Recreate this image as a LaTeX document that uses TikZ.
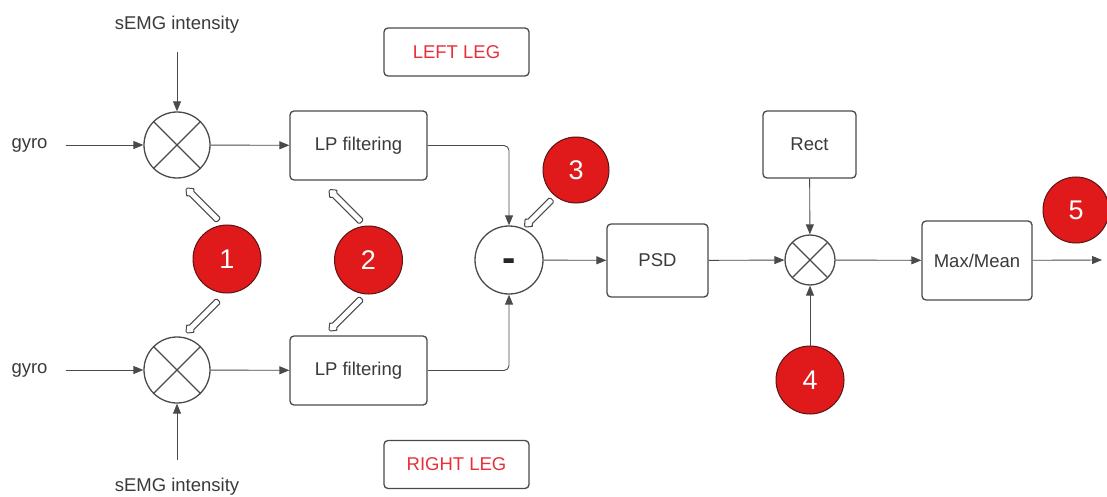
\documentclass[tikz,border=0pt]{standalone}
\usepackage{fontspec}
\setmainfont{Liberation Sans}
\usetikzlibrary{arrows.meta,shapes.arrows}
\definecolor{txt}{HTML}{3A3A3A}
\definecolor{ln}{HTML}{4A4A4A}
\definecolor{badge}{HTML}{E01A1A}
\definecolor{badgeedge}{HTML}{5A1414}
\definecolor{legred}{HTML}{E8303A}
\tikzset{
  box/.style={draw=ln, line width=1.3pt, rounded corners=4pt, fill=white, text=txt, font=\fontsize{18.5}{20}\selectfont, inner sep=0pt},
  multx/.style={circle, draw=ln, line width=1.3pt, fill=white, inner sep=0pt, path picture={
     \draw[ln, line width=1.3pt] (path picture bounding box.center) -- ++(45:40pt) (path picture bounding box.center) -- ++(135:40pt) (path picture bounding box.center) -- ++(225:40pt) (path picture bounding box.center) -- ++(-45:40pt);}},
  badgec/.style={circle, draw=badgeedge, line width=1pt, fill=badge, text=white, font=\fontsize{27}{28}\selectfont, inner sep=0pt, minimum size=68pt},
  lbl/.style={text=txt, font=\fontsize{18.5}{20}\selectfont, inner sep=3pt},
  arr/.style={draw=ln, line width=0.9pt, -{Triangle[length=10pt,width=8pt]}},
  hollow/.style={single arrow, draw=ln, line width=1pt, fill=white, inner sep=2.6pt, minimum height=46pt, single arrow head extend=2.6pt, single arrow tip angle=80, rounded corners=1.5pt},
  legbox/.style={draw=ln, line width=1.3pt, rounded corners=4pt, fill=white, text=legred, font=\fontsize{18.5}{20}\selectfont, minimum width=145pt, minimum height=48pt, inner sep=0pt},
  subc/.style={circle, draw=ln, line width=1.3pt, fill=white, minimum size=68pt, inner sep=0pt, text=black!85, font=\fontsize{40}{40}\selectfont\bfseries, text height=22.8pt, text depth=0pt}
}
\begin{document}
\begin{tikzpicture}[x=1pt,y=1pt]
\useasboundingbox (0,0) rectangle (1107,496);
\fill[white] (0,0) rectangle (1107,496);
% labels
\node[lbl] (s1) at (177,471) {sEMG intensity};
\node[lbl] (s2) at (177,9) {sEMG intensity};
\node[lbl] (g1) at (29.5,351) {gyro};
\node[lbl] (g2) at (29.5,126) {gyro};
% multipliers
\node[multx, minimum size=66pt] (m1) at (177,351) {};
\node[multx, minimum size=66pt] (m2) at (177,126) {};
\node[multx, minimum size=50pt] (m3) at (810,236) {};
% boxes
\node[box, minimum width=137pt, minimum height=69pt] (lp1) at (358.5,350.5) {LP filtering};
\node[box, minimum width=137pt, minimum height=69pt] (lp2) at (358.5,125.5) {LP filtering};
\node[subc] (sub) at (509,236) {-};
\node[box, minimum width=101pt, minimum height=73pt] (psd) at (657.5,235.5) {PSD};
\node[box, minimum width=93pt, minimum height=67pt] (rect) at (809.5,351.5) {Rect};
\node[box, minimum width=110pt, minimum height=79pt] (mm) at (977,235.5) {Max/Mean};
\coordinate (out) at (1102,236);
% leg labels
\node[legbox] (left) at (456.5,444) {LEFT LEG};
\node[legbox] (right) at (456.5,31.5) {RIGHT LEG};
% badges
\node[badgec] (b1) at (227,237) {1};
\node[badgec] (b2) at (368.5,236) {2};
\node[badgec, minimum size=66pt] (b3) at (576,326) {3};
\node[badgec] (b4) at (810,116) {4};
\node[badgec, minimum size=66pt] (b5) at (1076,286) {5};
% connectors
\draw[arr, shorten <=15pt] (s1) -- (m1);
\draw[arr, shorten <=15pt] (s2) -- (m2);
\draw[arr, shorten <=15pt] (g1) -- (m1);
\draw[arr, shorten <=15pt] (g2) -- (m2);
\draw[arr] (m1) -- (lp1);
\draw[arr] (m2) -- (lp2);
\draw[arr, rounded corners=5pt] (lp1.east) -| (sub.north);
\draw[arr, rounded corners=5pt] (lp2.east) -| (sub.south);
\draw[arr] (sub) -- (psd);
\draw[arr] (psd) -- (m3);
\draw[arr] (rect) -- (m3);
\draw[arr] (b4) -- (m3);
\draw[arr] (m3) -- (mm);
\draw[arr] (mm) -- (out);
% hollow pointer arrows
\node[hollow, rotate=135] (a1t) at (203.5,290.5) {};
\node[hollow, rotate=225] (a1b) at (203.5,180.5) {};
\node[hollow, rotate=135] (a2t) at (346.5,289) {};
\node[hollow, rotate=225] (a2b) at (346.5,182.5) {};
\node[hollow, rotate=225, minimum height=39pt] (a3) at (539.5,284) {};
\end{tikzpicture}
\end{document}
